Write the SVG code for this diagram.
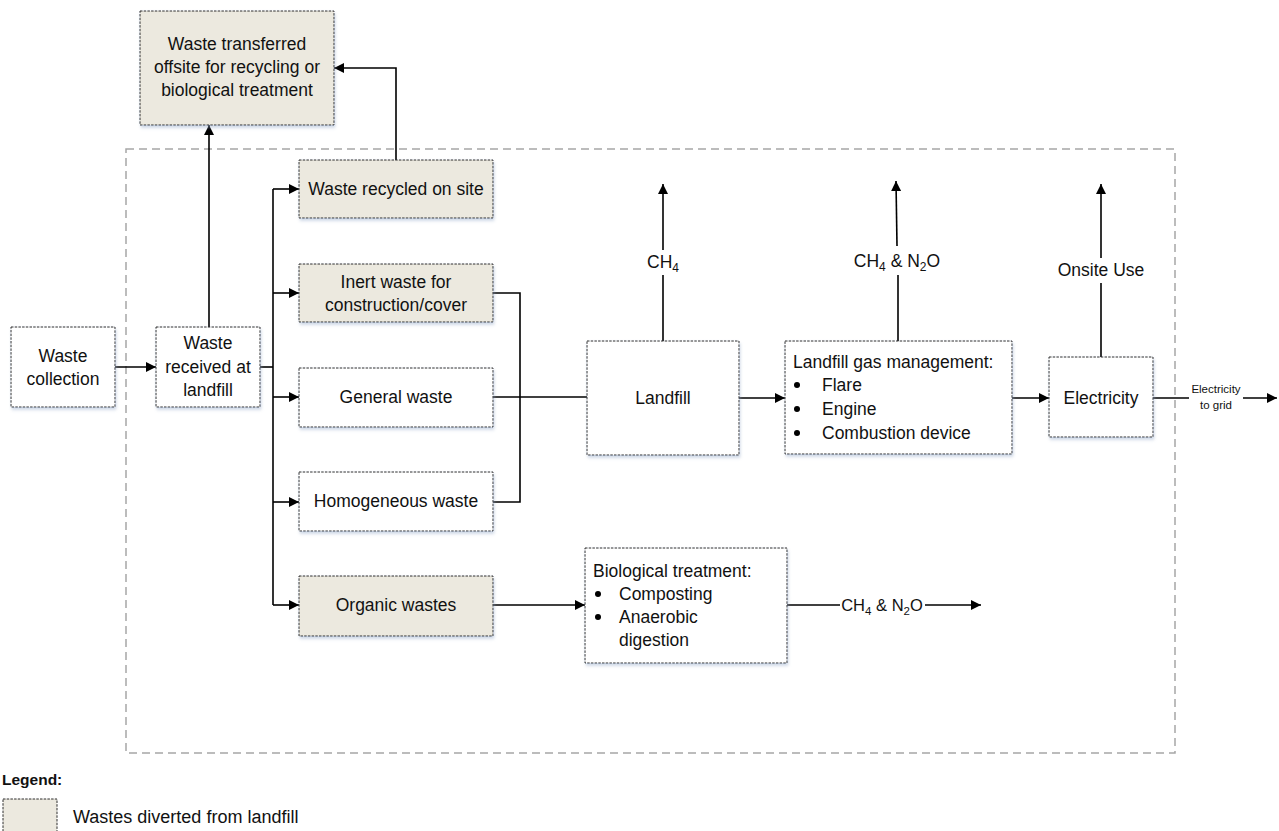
<svg xmlns="http://www.w3.org/2000/svg" width="1279" height="831" viewBox="0 0 1279 831">
<style>
.box{fill:#ffffff;stroke:#2e2e2e;stroke-width:1;stroke-dasharray:2.5 1.2;filter:url(#sh)}
.div{fill:#ECE9DF}
.t{font-family:"Liberation Sans",Arial,sans-serif;font-size:17.5px;fill:#111}
.m{text-anchor:middle}
.ln{fill:none;stroke:#000;stroke-width:1.6}
.ar{marker-end:url(#ah)}
.sm{font-size:11.5px}
</style>
<defs>
<marker id="ah" viewBox="0 0 10 10" refX="10" refY="5" markerWidth="11" markerHeight="10" orient="auto" markerUnits="userSpaceOnUse"><path d="M0,0 L10,5 L0,10 z" fill="#000"/></marker>
<filter id="sh" x="-10%" y="-10%" width="130%" height="140%"><feDropShadow dx="1" dy="2.5" stdDeviation="1.5" flood-color="#8fa6c8" flood-opacity="0.45"/></filter>
</defs>
<rect width="1279" height="831" fill="#fff"/>
<rect x="126" y="149" width="1049" height="604" fill="none" stroke="#a6a6a6" stroke-width="1.5" stroke-dasharray="8 5"/>

<g id="connectors">
<path class="ln ar" d="M115,367 H156"/>
<path class="ln" d="M260,367 H273"/>
<path class="ln" d="M273,189 V605"/>
<path class="ln ar" d="M273,189 H299"/>
<path class="ln ar" d="M273,293 H299"/>
<path class="ln ar" d="M273,397 H299"/>
<path class="ln ar" d="M273,502 H299"/>
<path class="ln ar" d="M273,605 H299"/>
<path class="ln ar" d="M209,327 V125"/>
<path class="ln ar" d="M396,160 V68 H334"/>
<path class="ln" d="M493,293 H520 V502 H493"/>
<path class="ln" d="M493,397 H587"/>
<path class="ln ar" d="M739,398 H785"/>
<path class="ln ar" d="M1012,398 H1049"/>
<path class="ln" d="M663,341 V275"/>
<path class="ln ar" d="M663,250 V184"/>
<path class="ln" d="M898,341 V275"/>
<path class="ln ar" d="M897,246 L896,181"/>
<path class="ln" d="M1101,357 V283"/>
<path class="ln ar" d="M1101,258 V184"/>
<path class="ln" d="M1153,398 H1189"/>
<path class="ln ar" d="M1243,398 H1277"/>
<path class="ln ar" d="M493,605 H585"/>
<path class="ln" d="M787,605 H840"/>
<path class="ln ar" d="M925,605 H981"/>
<text class="t m" x="663" y="268">CH<tspan font-size="12" dy="4">4</tspan></text>
<text class="t m" x="897" y="267">CH<tspan font-size="12" dy="4">4</tspan><tspan dy="-4"> &amp; N</tspan><tspan font-size="12" dy="4">2</tspan><tspan dy="-4">O</tspan></text>
<text class="t m" x="1101" y="276">Onsite Use</text>
<text class="t sm m" x="1216" y="393">Electricity</text>
<text class="t sm m" x="1216" y="409">to grid</text>
<text class="t m" x="882" y="611" style="font-size:16.5px">CH<tspan font-size="11.5" dy="4">4</tspan><tspan dy="-4"> &amp; N</tspan><tspan font-size="11.5" dy="4">2</tspan><tspan dy="-4">O</tspan></text>
</g>

<g id="n-offsite">
<rect class="box div" x="140" y="11" width="194" height="114"/>
<text class="t m" x="237" y="50">Waste transferred</text>
<text class="t m" x="237" y="73">offsite for recycling or</text>
<text class="t m" x="237" y="96">biological treatment</text>
</g>
<g id="n-collection">
<rect class="box" x="11" y="327" width="104" height="80"/>
<text class="t m" x="63" y="362">Waste</text>
<text class="t m" x="63" y="385">collection</text>
</g>
<g id="n-received">
<rect class="box" x="156" y="327" width="104" height="80"/>
<text class="t m" x="208" y="349">Waste</text>
<text class="t m" x="208" y="373">received at</text>
<text class="t m" x="208" y="396">landfill</text>
</g>
<g id="n-recycled">
<rect class="box div" x="299" y="160" width="194" height="58"/>
<text class="t m" x="396" y="195">Waste recycled on site</text>
</g>
<g id="n-inert">
<rect class="box div" x="299" y="264" width="194" height="58"/>
<text class="t m" x="396" y="288">Inert waste for</text>
<text class="t m" x="396" y="311">construction/cover</text>
</g>
<g id="n-general">
<rect class="box" x="299" y="368" width="194" height="59"/>
<text class="t m" x="396" y="403">General waste</text>
</g>
<g id="n-homogeneous">
<rect class="box" x="299" y="472" width="194" height="59"/>
<text class="t m" x="396" y="507">Homogeneous waste</text>
</g>
<g id="n-organic">
<rect class="box div" x="299" y="576" width="194" height="60"/>
<text class="t m" x="396" y="611">Organic wastes</text>
</g>
<g id="n-landfill">
<rect class="box" x="587" y="341" width="152" height="114"/>
<text class="t m" x="663" y="404">Landfill</text>
</g>
<g id="n-lgm">
<rect class="box" x="785" y="341" width="227" height="113"/>
<text class="t" x="793" y="368">Landfill gas management:</text>
<circle cx="797" cy="385" r="3"/>
<circle cx="797" cy="409" r="3"/>
<circle cx="797" cy="433" r="3"/>
<text class="t" x="822" y="391">Flare</text>
<text class="t" x="822" y="415">Engine</text>
<text class="t" x="822" y="439">Combustion device</text>
</g>
<g id="n-electricity">
<rect class="box" x="1049" y="357" width="104" height="80"/>
<text class="t m" x="1101" y="404">Electricity</text>
</g>
<g id="n-bio">
<rect class="box" x="585" y="548" width="202" height="115"/>
<text class="t" x="593" y="577">Biological treatment:</text>
<circle cx="598" cy="594" r="3"/>
<circle cx="598" cy="617" r="3"/>
<text class="t" x="619" y="600">Composting</text>
<text class="t" x="619" y="623">Anaerobic</text>
<text class="t" x="619" y="646">digestion</text>
</g>
<g id="legend">
<text class="t" x="2" y="785" style="font-weight:bold;font-size:15.5px">Legend:</text>
<rect class="div" x="3" y="799" width="54" height="40" stroke="#2e2e2e" stroke-width="1" stroke-dasharray="2.5 1.2"/>
<text class="t" x="73" y="823" style="font-size:18px">Wastes diverted from landfill</text>
</g>
</svg>
